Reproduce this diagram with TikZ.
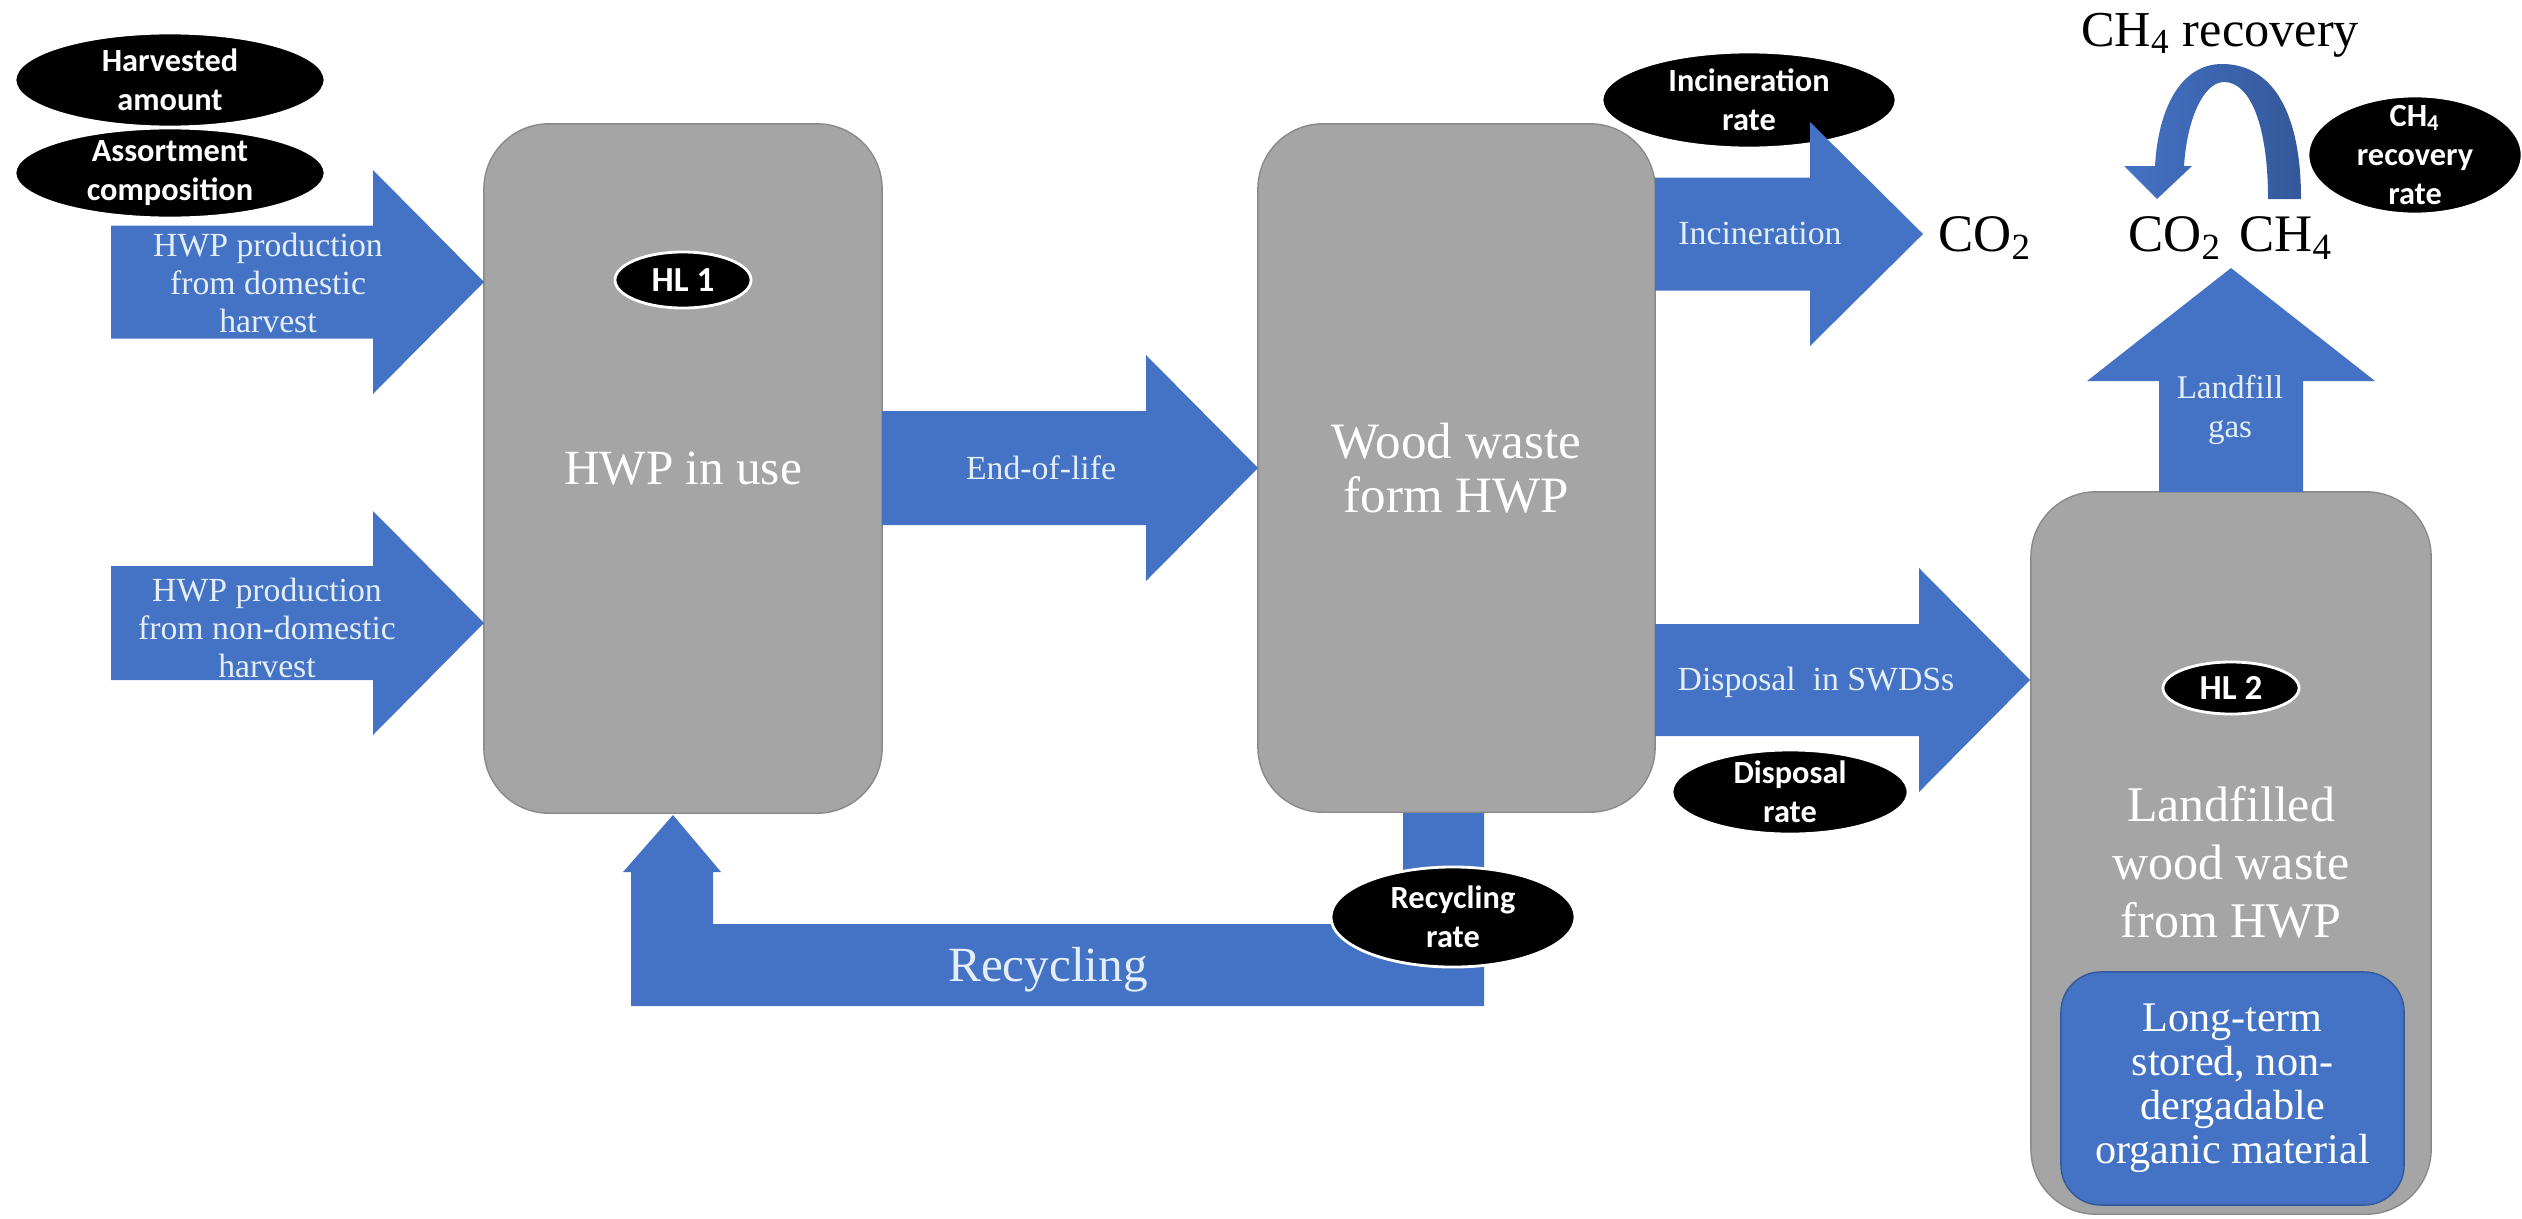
\documentclass[tikz,border=0pt]{standalone}
\usepackage{fontspec}
\setmainfont{Liberation Serif}
\newfontfamily\calibri{Carlito}
\usetikzlibrary{shapes.geometric}

\definecolor{flowblue}{HTML}{4472C4}
\definecolor{flowdark}{HTML}{34589A}
\definecolor{flowtext}{HTML}{E4EEF9}
\definecolor{poolgray}{HTML}{A5A5A5}
\definecolor{pooledge}{HTML}{8A8A8A}

\tikzset{
	pool/.style={draw=pooledge, fill=poolgray, rounded corners=0.65cm, text=white, align=center, inner sep=0pt},
	rate/.style={ellipse, fill=black, draw=white, line width=0.8pt, text=white, align=center, inner xsep=0pt, inner ysep=-0.1cm, font=\calibri\bfseries\fontsize{9.2}{11}\selectfont},
	flowlabel/.style={text=flowtext, align=center, inner sep=0pt, font=\fontsize{9.6}{10.7}\selectfont},
	gas/.style={inner sep=0pt, font=\fontsize{15}{17}\selectfont},
}

% right block arrow: tail x, head x, tip x, mid y, half shaft, half head
\newcommand{\rightflow}[6]{%
	\fill[flowblue] (#1,#4-#5) -- (#2,#4-#5) -- (#2,#4-#6) -- (#3,#4)
	-- (#2,#4+#6) -- (#2,#4+#5) -- (#1,#4+#5) -- cycle;}

\begin{document}
\begin{tikzpicture}[x=0.01cm, y=-0.01cm]
	\useasboundingbox (0,0) rectangle (2522,1218);

	\node[pool, minimum width=3.98cm, minimum height=6.89cm, font=\fontsize{14}{16}\selectfont] (inuse) at (683,468.5) {HWP in use};
	\node[pool, minimum width=3.97cm, minimum height=6.88cm, font=\fontsize{14.5}{15.2}\selectfont] (waste) at (1456.5,468) {Wood waste\\form HWP};
	\node[pool, minimum width=4cm, minimum height=7.22cm] (landfill) at (2231,853) {};
	\node[text=white, align=center, inner sep=0pt, font=\fontsize{14.2}{16.5}\selectfont] (landtext) at (2231,862) {Landfilled\\wood waste\\from HWP};
	\node[fill=flowblue, draw=flowdark, rounded corners=0.4cm, minimum width=3.43cm, minimum height=2.33cm, text=white, align=center, inner sep=0pt, font=\fontsize{12}{12.5}\selectfont] (stored) at (2232.5,1088.5) {Long-term\\stored, non-\\dergadable\\organic material};

	\node[rate, minimum width=2.94cm, minimum height=0.96cm] (incrate) at (1749,100) {Incineration\\rate};

	\rightflow{111}{373}{484}{282}{56.5}{112}
	\rightflow{111}{373}{484}{623}{57}{112}
	\rightflow{882}{1146}{1258}{468}{57}{113}
	\rightflow{1655}{1810}{1923}{234}{56.5}{112}
	\rightflow{1655}{1919}{2030}{680}{56}{112}
	\fill[flowblue] (2159,492) -- (2159,381) -- (2087,381) -- (2231,268) -- (2375,381) -- (2303,381) -- (2303,492) -- cycle;
	\fill[flowblue] (1403,813) -- (1484,813) -- (1484,1006) -- (631,1006) -- (631,872) -- (623,872) -- (673,815)
		-- (721,872) -- (713,872) -- (713,924) -- (1403,924) -- cycle;
	\shade[left color=flowblue, right color=flowdark] (2301,199) .. controls (2301,105) and (2268,64) .. (2222,64)
		.. controls (2180,64) and (2158,110) .. (2155,166) -- (2124,166) -- (2157,199) -- (2192,166) -- (2184,166)
		.. controls (2187,118) and (2204,82) .. (2224,82) .. controls (2250,82) and (2268,125) .. (2268,199) -- cycle;

	\node[flowlabel] (dom) at (268,283) {HWP production\\from domestic\\harvest};
	\node[flowlabel] (nondom) at (267,628) {HWP production\\from non-domestic\\harvest};
	\node[flowlabel] (eol) at (1041,468) {End-of-life};
	\node[flowlabel] (incin) at (1760,233) {Incineration};
	\node[flowlabel] (disp) at (1816,682) {Disposal\ \ in SWDSs};
	\node[flowlabel, font=\fontsize{9.4}{11}\selectfont] (lgas) at (2230,410) {Landfill\\gas};
	\node[flowlabel, font=\fontsize{14}{16}\selectfont] (recyc) at (1048,970) {Recycling};

	\node[gas] (co2out) at (1985,238) {CO\textsubscript{2}};
	\node[gas] (co2back) at (2175,238) {CO\textsubscript{2}};
	\node[gas] (ch4) at (2286,238) {CH\textsubscript{4}};
	\node[gas, font=\fontsize{14.3}{16}\selectfont] (ch4rec) at (2220,35) {CH\textsubscript{4} recovery};

	\node[rate, minimum width=3.1cm, minimum height=0.94cm] (harvest) at (170,80) {Harvested\\amount};
	\node[rate, minimum width=3.1cm, minimum height=0.9cm] (assort) at (170,173) {Assortment\\composition};
	\node[rate, minimum width=2.14cm, minimum height=1.18cm, inner ysep=-0.2cm] (ch4rate) at (2415,155) {CH\textsubscript{4}\\recovery\\rate};
	\node[rate, minimum width=2.36cm, minimum height=0.84cm] (disrate) at (1790,792) {Disposal\\rate};
	\node[rate, minimum width=2.44cm, minimum height=1cm] (cycrate) at (1453,917) {Recycling\\rate};
	\node[rate, minimum width=1.36cm, minimum height=0.56cm, font=\calibri\bfseries\fontsize{10}{11}\selectfont] (hl1) at (683,280) {HL 1};
	\node[rate, minimum width=1.36cm, minimum height=0.52cm, font=\calibri\bfseries\fontsize{10}{11}\selectfont] (hl2) at (2231,688) {HL 2};
\end{tikzpicture}
\end{document}
